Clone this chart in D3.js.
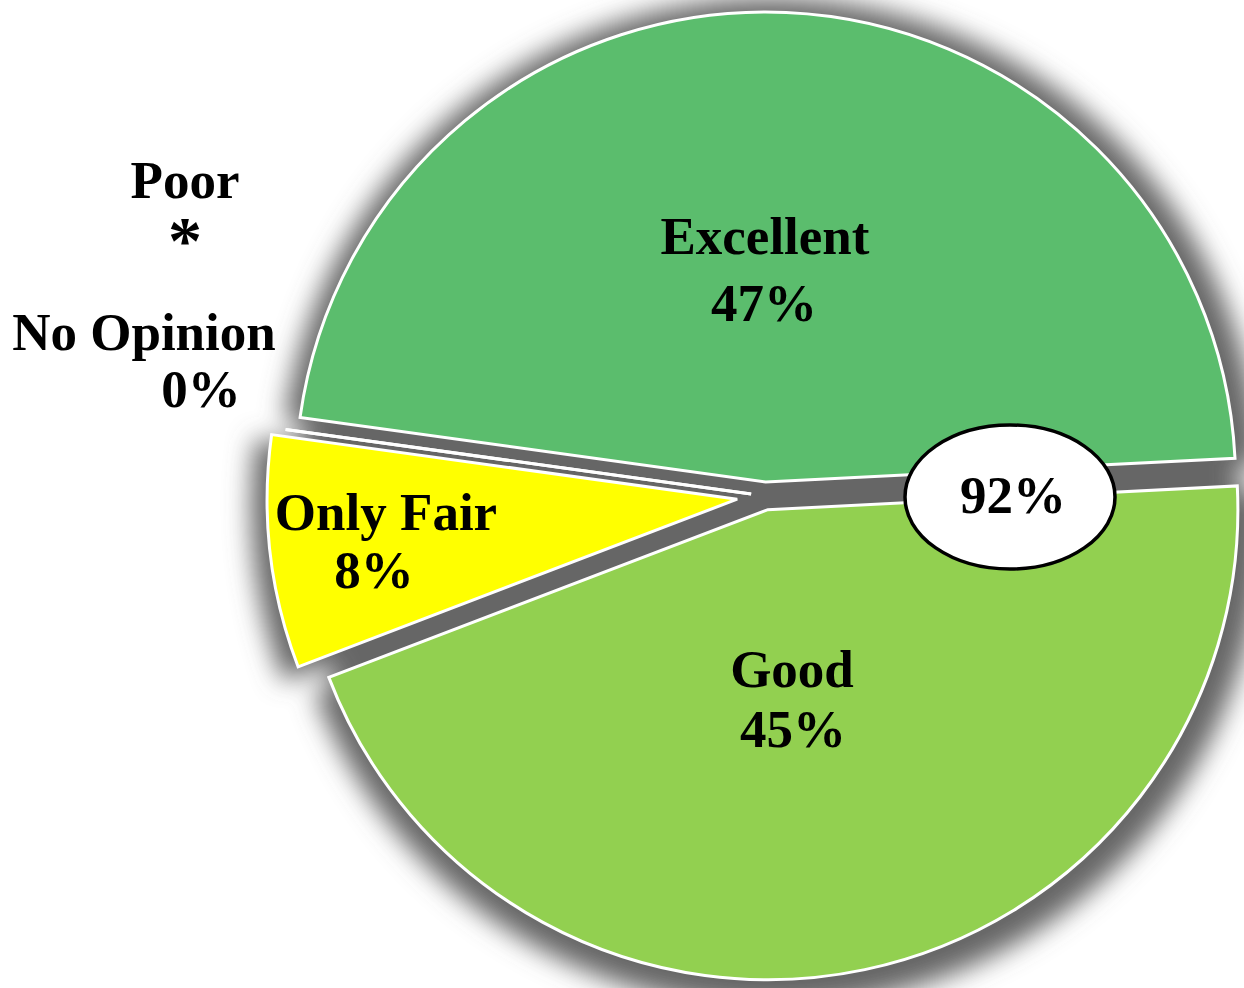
<!DOCTYPE html>
<html>
<head>
<meta charset="utf-8">
<script src="https://cdn.jsdelivr.net/npm/d3@7"></script>
<style>
  html, body { margin: 0; padding: 0; background: #ffffff; }
  svg { display: block; }
  text { font-family: "Liberation Serif", "Times New Roman", serif; font-weight: bold; fill: #000; }
</style>
</head>
<body>
<svg id="chart" width="1244" height="988"></svg>
<script>
// ---- data ----
const categories = ["Excellent", "Good", "Only Fair", "Poor", "No Opinion"];
const values = [47, 45, 8, 0, 0];
const valueLabels = ["47%", "45%", "8%", "*", "0%"];
const colors = ["#5bbd6d", "#92d050", "#ffff00", "#ffffff", "#ffffff"];
const combinedLabel = "92%";

// ---- layout ----
const W = 1244, H = 988;
const cx = 765, cy = 496;
const R = 470;
const explode = [14, 14, 28, 14, 14];
const startDeg = -82.1;
// label anchors (name x, name baseline, value x, value baseline, value size)
const labelLayout = [
  {x: 765, y: 254, x2: 764, y2: 321, s2: 53},
  {x: 792, y: 687, x2: 793, y2: 747, s2: 53},
  {x: 386, y: 530, x2: 374, y2: 588, s2: 53},
  {x: 185, y: 198, x2: 185, y2: 263, s2: 68},
  {x: 144, y: 350, x2: 201, y2: 407, s2: 53}
];
const fontSize = 53;

const svg = d3.select("#chart");
const defs = svg.append("defs");
const f = defs.append("filter").attr("id", "shadow")
  .attr("filterUnits", "userSpaceOnUse")
  .attr("x", -700).attr("y", -700).attr("width", 1400).attr("height", 1400);
f.append("feGaussianBlur").attr("stdDeviation", 13);

const pie = d3.pie().sort(null).value(d => d)
  .startAngle(startDeg * Math.PI / 180)
  .endAngle(startDeg * Math.PI / 180 + 2 * Math.PI);
const arcs = pie(values);
const arc = d3.arc().innerRadius(0).outerRadius(R);
const shadowArc = d3.arc().innerRadius(0).outerRadius(R + 21);

function offset(d, i) {
  const a = (d.startAngle + d.endAngle) / 2;
  return [Math.sin(a) * explode[i], -Math.cos(a) * explode[i]];
}

// shadow
const sh = svg.append("g").attr("filter", "url(#shadow)")
  .attr("transform", `translate(${cx + 5},${cy + 7})`);
sh.append("circle").attr("r", R).attr("fill", "#666666");
sh.selectAll("path").data(arcs).join("path")
  .attr("d", shadowArc)
  .attr("fill", "#666666")
  .attr("transform", (d, i) => { const o = offset(d, i); return `translate(${o[0]},${o[1]})`; });

// slices
const g = svg.append("g").attr("transform", `translate(${cx},${cy})`);
const order = arcs.map((d, i) => ({d, i})).sort((a, b) => (a.d.value > 0) - (b.d.value > 0));
g.selectAll("path.slice").data(order).join("path")
  .attr("class", "slice")
  .attr("d", o => arc(o.d))
  .attr("fill", o => colors[o.i])
  .attr("stroke", "#ffffff")
  .attr("stroke-width", 3)
  .attr("transform", o => { const of = offset(o.d, o.i); return `translate(${of[0]},${of[1]})`; });

// labels
categories.forEach((c, i) => {
  const L = labelLayout[i];
  svg.append("text").attr("x", L.x).attr("y", L.y)
    .attr("text-anchor", "middle").attr("font-size", fontSize).text(c);
  svg.append("text").attr("x", L.x2).attr("y", L.y2)
    .attr("text-anchor", "middle").attr("font-size", L.s2).text(valueLabels[i]);
});

// combined callout
svg.append("ellipse").attr("cx", 1010).attr("cy", 497).attr("rx", 105).attr("ry", 72)
  .attr("fill", "#ffffff").attr("stroke", "#000").attr("stroke-width", 3.5);
svg.append("text").attr("x", 1013).attr("y", 513).attr("text-anchor", "middle")
  .attr("font-size", fontSize).text(combinedLabel);
</script>
</body>
</html>
